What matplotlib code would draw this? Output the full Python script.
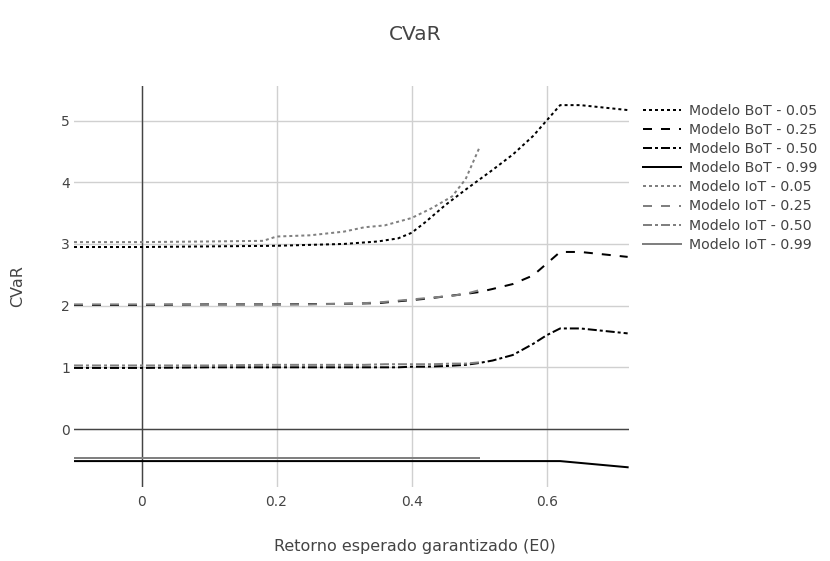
import numpy as np
import matplotlib
matplotlib.use("Agg")
import matplotlib.pyplot as plt

# guaranteed expected return (E0) grids for each model
x_bot = [-0.1, 0.0, 0.1, 0.2, 0.3, 0.35, 0.38, 0.4, 0.42, 0.45, 0.48, 0.5,
         0.52, 0.55, 0.58, 0.6, 0.62, 0.65, 0.72]
x_iot = [-0.1, 0.0, 0.1, 0.18, 0.2, 0.25, 0.3, 0.33, 0.36, 0.4, 0.43, 0.46,
         0.48, 0.5]

# CVaR per confidence level
bot_005 = [2.95, 2.95, 2.96, 2.97, 3.0, 3.04, 3.09, 3.18, 3.35, 3.63, 3.88, 4.04,
           4.2, 4.45, 4.75, 5.0, 5.25, 5.25, 5.17]
bot_025 = [2.01, 2.01, 2.02, 2.02, 2.03, 2.04, 2.07, 2.09, 2.11, 2.15, 2.19, 2.22,
           2.27, 2.35, 2.49, 2.68, 2.87, 2.87, 2.79]
bot_050 = [0.99, 0.99, 1.0, 1.0, 1.0, 1.0, 1.0, 1.01, 1.01, 1.02, 1.04, 1.07,
           1.11, 1.2, 1.38, 1.52, 1.63, 1.63, 1.55]
bot_099 = [-0.52, -0.52, -0.52, -0.52, -0.52, -0.52, -0.52, -0.52, -0.52, -0.52,
           -0.52, -0.52, -0.52, -0.52, -0.52, -0.52, -0.52, -0.55, -0.62]

iot_005 = [3.03, 3.03, 3.04, 3.05, 3.12, 3.14, 3.2, 3.27, 3.3, 3.42, 3.58, 3.77,
           4.05, 4.55]
iot_025 = [2.02, 2.02, 2.02, 2.02, 2.02, 2.02, 2.03, 2.04, 2.06, 2.1, 2.13, 2.16,
           2.19, 2.25]
iot_050 = [1.03, 1.03, 1.03, 1.04, 1.04, 1.04, 1.04, 1.04, 1.05, 1.05, 1.05, 1.06,
           1.06, 1.08]
iot_099 = [-0.47] * len(x_iot)

levels = ["0.05", "0.25", "0.50", "0.99"]
x_ticks = [0, 0.2, 0.4, 0.6]
y_ticks = [0, 1, 2, 3, 4, 5]

# dash patterns in units of line width (2px wide lines)
dash_styles = [(0, (1.5, 1.5)), (0, (4.5, 4.5)), (0, (4.5, 1.5, 1.5, 1.5)), "-"]

plt.rcParams['font.family'] = ['DejaVu Sans']
txt = '#444444'

fig = plt.figure(figsize=(8.3, 5.61), dpi=100)
ax = fig.add_axes([74 / 830, 1 - 487 / 561, (629 - 74) / 830, (487 - 86) / 561])
ax.set_axisbelow(True)

lw = 1.44
for ys, ls, lev in zip([bot_005, bot_025, bot_050, bot_099], dash_styles, levels):
    ax.plot(x_bot, ys, color='black', lw=lw, linestyle=ls, label=f"Modelo BoT - {lev}", zorder=3)
for ys, ls, lev in zip([iot_005, iot_025, iot_050, iot_099], dash_styles, levels):
    ax.plot(x_iot, ys, color='#808080', lw=lw, linestyle=ls, label=f"Modelo IoT - {lev}", zorder=4)

ax.set_xlim(-0.1, 0.722)
ax.set_ylim(-0.94, 5.56)
ax.set_xticks(x_ticks)
ax.set_xticklabels(["0", "0.2", "0.4", "0.6"])
ax.set_yticks(y_ticks)
ax.grid(True, color='#d0d0d0', lw=1.0)
# zero lines on top of the grid
ax.axvline(0, color='#444444', lw=1.0, zorder=2)
ax.axhline(0, color='#444444', lw=1.0, zorder=2)
for s in ax.spines.values():
    s.set_visible(False)
ax.tick_params(length=0, colors=txt, labelsize=10)
ax.tick_params(axis='x', pad=6)
ax.tick_params(axis='y', pad=3)

ax.set_xlabel("Retorno esperado garantizado (E0)", fontsize=11.5, color=txt)
ax.set_ylabel("CVaR", fontsize=11.5, color=txt)
ax.xaxis.set_label_coords(0.5, 1 - 546 / 561, transform=fig.transFigure)
ax.yaxis.set_label_coords(18 / 830, 1 - 286.5 / 561, transform=fig.transFigure)
ax.xaxis.label.set_va('center')
ax.yaxis.label.set_va('center')
fig.text(0.5, 1 - 34 / 561, "CVaR", ha='center', va='center', fontsize=14.5, color=txt)

leg = ax.legend(loc='upper left', bbox_to_anchor=(643 / 830, 1 - 104 / 561),
                bbox_transform=fig.transFigure, frameon=False, fontsize=10.2,
                handlelength=2.7, handletextpad=0.57, labelspacing=0.36,
                borderaxespad=0, borderpad=0)
for t in leg.get_texts():
    t.set_color(txt)

fig.savefig("out.png", dpi=100)
